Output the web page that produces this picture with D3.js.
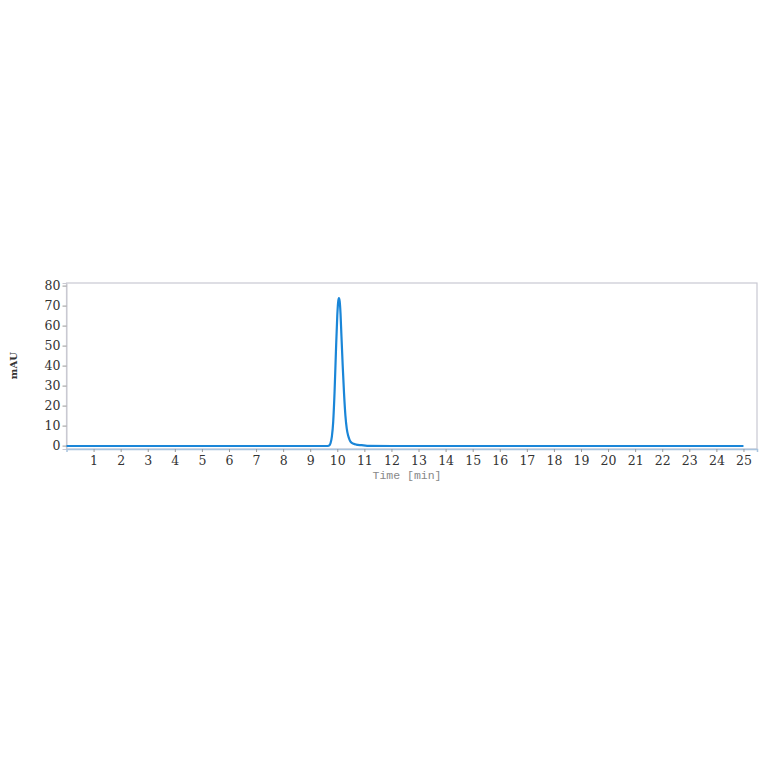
<!DOCTYPE html>
<html>
<head>
<meta charset="utf-8">
<script src="https://cdn.jsdelivr.net/npm/d3@7"></script>
<style>
  body { margin: 0; background: #fff; }
</style>
</head>
<body>
<div id="chart"></div>
<script>
// chromatogram trace
const times = [0, 9.6, 9.7, 9.75, 9.8, 9.85, 9.9, 9.95, 10.0, 10.03, 10.06, 10.09, 10.12, 10.15, 10.2, 10.25, 10.3, 10.35, 10.4, 10.45, 10.5, 10.6, 10.7, 10.9, 11.1, 12, 25];
const signal = [-0.2, -0.2, 0.1, 1.2, 4.5, 12, 27, 47, 65, 71.5, 73.7, 72, 66, 56, 40, 26, 15, 8.5, 5, 3, 1.8, 0.9, 0.5, 0.2, -0.1, -0.2, -0.2];
const xTicks = d3.range(1, 26);
const yTicks = [0, 10, 20, 30, 40, 50, 60, 70, 80];

const width = 764, height = 764;
const plotLeft = 66.5, plotRight = 757, plotTop = 283, plotBottom = 449;

const svg = d3.select("#chart").append("svg")
    .attr("width", width)
    .attr("height", height);

const x = d3.scaleLinear().domain([0, 25.5]).range([plotLeft, plotRight]);
const y = d3.scaleLinear().domain([-1.7, 81.3]).range([plotBottom, plotTop]);

// frame
svg.append("rect")
    .attr("x", plotLeft).attr("y", plotTop)
    .attr("width", plotRight - plotLeft).attr("height", plotBottom - plotTop)
    .attr("fill", "none")
    .attr("stroke", "#c9c9d2")
    .attr("stroke-width", 1.2);

// y axis
const yAxis = svg.append("g")
    .attr("transform", `translate(${plotLeft},0)`)
    .call(d3.axisLeft(y).tickValues(yTicks).tickSize(4).tickPadding(2));
yAxis.select(".domain").attr("stroke", "#c9c9d2");
yAxis.selectAll(".tick line").attr("stroke", "#999");
yAxis.selectAll("text")
    .attr("font-family", "DejaVu Serif")
    .attr("font-size", 12.5)
    .attr("fill", "#333");

// x axis
const xAxis = svg.append("g")
    .attr("transform", `translate(0,${plotBottom})`)
    .call(d3.axisBottom(x).tickValues(xTicks).tickSize(3).tickPadding(4));
xAxis.select(".domain").attr("stroke", "#a9c4de").attr("stroke-width", 1.5);
xAxis.selectAll(".tick line").attr("stroke", "#999");
xAxis.selectAll("text")
    .attr("font-family", "DejaVu Serif")
    .attr("font-size", 12.5)
    .attr("fill", "#333");

// axis titles
svg.append("text")
    .attr("x", 407).attr("y", 479)
    .attr("text-anchor", "middle")
    .attr("font-family", "Liberation Mono")
    .attr("font-size", 11.5)
    .attr("fill", "#888")
    .text("Time [min]");

svg.append("text")
    .attr("transform", `translate(17,${y(40)}) rotate(-90)`)
    .attr("text-anchor", "middle")
    .attr("font-family", "DejaVu Serif")
    .attr("font-weight", "bold")
    .attr("font-size", 10)
    .attr("fill", "#333")
    .text("mAU");

// trace
const pts = times.map((t, i) => [t, signal[i]]);
const line = d3.line()
    .x(d => x(d[0]))
    .y(d => y(d[1]))
    .curve(d3.curveMonotoneX);

svg.append("path")
    .datum(pts)
    .attr("d", line)
    .attr("fill", "none")
    .attr("stroke", "#1a86d8")
    .attr("stroke-width", 2.2);
</script>
</body>
</html>
